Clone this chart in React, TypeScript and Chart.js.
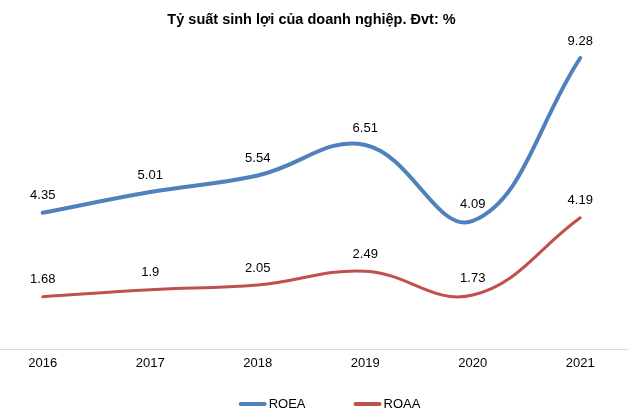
import React, { useEffect, useRef } from "react";
import { Chart, registerables } from "chart.js";

Chart.register(...registerables);

const years = ["2016", "2017", "2018", "2019", "2020", "2021"];
const roea = [4.35, 5.01, 5.54, 6.51, 4.09, 9.28];
const roaa = [1.68, 1.9, 2.05, 2.49, 1.73, 4.19];
const seriesNames = ["ROEA", "ROAA"];
const seriesColors = ["#4F81BD", "#C0504D"];
const seriesWidths = [4, 3];
const titleText = "Tỷ suất sinh lợi của doanh nghiệp. Đvt: %";

const FONT = "'Liberation Sans', Arial, sans-serif";

const valueLabels = {
  id: "valueLabels",
  afterDatasetsDraw(chart: any) {
    const ctx = chart.ctx;
    ctx.save();
    ctx.font = `13px ${FONT}`;
    ctx.fillStyle = "#000";
    ctx.textAlign = "center";
    ctx.textBaseline = "middle";
    chart.data.datasets.forEach((ds: any, i: number) => {
      const meta = chart.getDatasetMeta(i);
      meta.data.forEach((pt: any, j: number) => {
        ctx.fillText(String(ds.data[j]), pt.x, pt.y - 17);
      });
    });
    ctx.restore();
  },
};

const bottomLegend = {
  id: "bottomLegend",
  afterDraw(chart: any) {
    const ctx = chart.ctx;
    ctx.save();
    ctx.font = `13px ${FONT}`;
    const lineLen = 28;
    const gap = 2;
    const spacing = 48;
    const widths = seriesNames.map((n) => ctx.measureText(n).width);
    const total =
      widths.reduce((a, b) => a + b, 0) + seriesNames.length * (lineLen + gap) + spacing * (seriesNames.length - 1);
    let x = chart.width / 2 - total / 2 + 18;
    const y = 404;
    seriesNames.forEach((n, i) => {
      ctx.strokeStyle = seriesColors[i];
      ctx.lineWidth = 4;
      ctx.lineCap = "round";
      ctx.beginPath();
      ctx.moveTo(x + 2, y);
      ctx.lineTo(x + lineLen - 2, y);
      ctx.stroke();
      x += lineLen + gap;
      ctx.fillStyle = "#000";
      ctx.textAlign = "left";
      ctx.textBaseline = "middle";
      ctx.fillText(n, x, y);
      x += widths[i] + spacing;
    });
    ctx.restore();
  },
};

export default function App() {
  const ref = useRef<HTMLCanvasElement | null>(null);
  useEffect(() => {
    if (!ref.current) return;
    Chart.defaults.font.family = FONT;
    const chart = new Chart(ref.current, {
      type: "line",
      data: {
        labels: years,
        datasets: [
          {
            label: seriesNames[0],
            data: roea,
            borderColor: seriesColors[0],
            backgroundColor: seriesColors[0],
            borderWidth: seriesWidths[0],
            pointRadius: 0,
            tension: 0.4,
            borderCapStyle: "round",
          },
          {
            label: seriesNames[1],
            data: roaa,
            borderColor: seriesColors[1],
            backgroundColor: seriesColors[1],
            borderWidth: seriesWidths[1],
            pointRadius: 0,
            tension: 0.4,
            borderCapStyle: "round",
          },
        ],
      },
      options: {
        responsive: false,
        animation: false,
        layout: { padding: { left: 0, right: 0, top: 0, bottom: 42 } },
        plugins: {
          legend: { display: false },
          tooltip: { enabled: false },
          title: {
            display: true,
            text: titleText,
            color: "#000",
            font: { size: 14.5, weight: "bold", family: FONT },
            padding: { top: 11, bottom: 7 },
          },
        },
        scales: {
          x: {
            offset: true,
            grid: { display: false, drawTicks: false },
            border: { display: true, color: "#D9D9D9", width: 1 },
            ticks: { color: "#000", font: { size: 13, family: FONT }, padding: 6 },
          },
          y: {
            display: false,
            min: 0,
            max: 10,
          },
        },
      },
      plugins: [valueLabels, bottomLegend],
    });
    return () => chart.destroy();
  }, []);
  return (
    <div style={{ position: "fixed", left: 0, top: 0, width: 628, height: 419, overflow: "hidden", background: "#fff" }}>
      <div style={{ position: "absolute", left: -11, top: 0 }}>
        <canvas ref={ref} width={645} height={419} style={{ display: "block" }} />
      </div>
    </div>
  );
}
